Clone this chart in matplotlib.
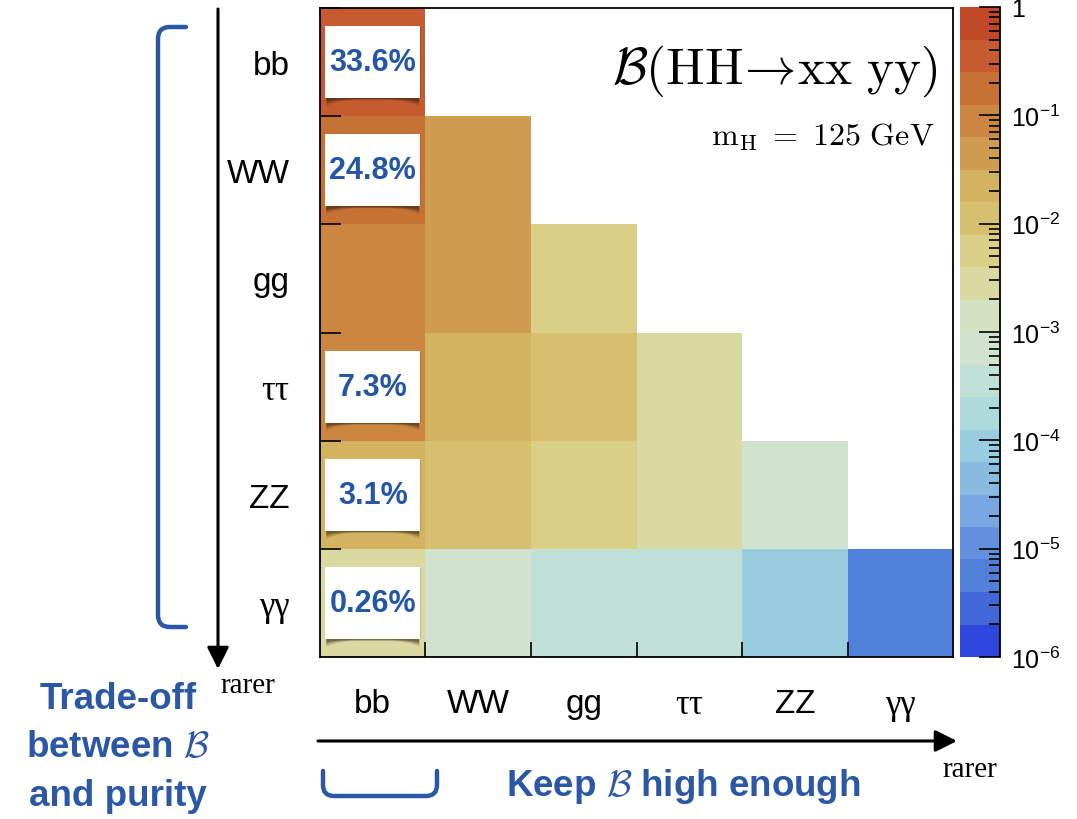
import numpy as np
import matplotlib
import matplotlib.pyplot as plt
from matplotlib.colors import ListedColormap, BoundaryNorm
from matplotlib.patches import Rectangle, Polygon, PathPatch
from matplotlib.path import Path
from matplotlib.ticker import LogLocator, NullFormatter, FixedLocator

plt.rcParams['font.family'] = ['Liberation Sans', 'DejaVu Sans']
plt.rcParams['mathtext.fontset'] = 'custom'
plt.rcParams['mathtext.rm'] = 'Liberation Sans'
plt.rcParams['mathtext.it'] = 'Liberation Sans:italic'
plt.rcParams['mathtext.bf'] = 'Liberation Sans:bold'

# decay channels (x: first pair, y: second pair)
channels = ['bb', 'WW', 'gg', r'ττ', 'ZZ', r'γγ']
greek = [r'ττ', r'γγ']

# B(HH -> xx yy), rows = y channel, columns = x channel (lower triangle)
nan = np.nan
br_bb = [0.336, nan, nan, nan, nan, nan]
br_WW = [0.248, 0.0463, nan, nan, nan, nan]
br_gg = [0.0950, 0.0352, 0.00669, nan, nan, nan]
br_tt = [0.0727, 0.0269, 0.0102, 0.00391, nan, nan]
br_ZZ = [0.0307, 0.0114, 0.00432, 0.00330, 0.000698, nan]
br_aa = [0.00264, 0.000977, 0.000372, 0.000284, 0.000120, 0.0000052]

# percentages shown in the bb column
pct_labels = ['33.6%', '24.8%', None, '7.3%', '3.1%', '0.26%']

# 20 contour colours from 1e-6 up to 1
band_colors = ['#2F46DD', '#4166D7', '#5080DA', '#6290DC', '#78A7E2',
               '#89BBE0', '#9ACCDF', '#ADDBDB', '#BFDFD7', '#D1E3CE',
               '#D5E1C3', '#DBD9A2', '#D9CF87', '#D6C070', '#D3B260',
               '#CF9C50', '#CB8742', '#C77235', '#C55B2F', '#BF4826']

W, H = 1077, 820
BLUE = '#2B57A5'


def fx(x):
    return x / W


def fy(y):
    return 1 - y / H


matrix = np.ma.masked_invalid(np.array([br_bb, br_WW, br_gg, br_tt, br_ZZ, br_aa]))
bounds = 10 ** np.linspace(-6, 0, 21)
cmap = ListedColormap(band_colors)
norm = BoundaryNorm(bounds, cmap.N)

fig = plt.figure(figsize=(W / 100, H / 100), dpi=100)
ax = fig.add_axes([fx(320), fy(658), fx(953) - fx(320), fy(9) - fy(658)])
cax = fig.add_axes([fx(960), fy(658), fx(1000) - fx(960), fy(8) - fy(658)])

n = len(channels)
ax.pcolormesh(np.arange(n + 1), np.arange(n + 1), matrix, cmap=cmap, norm=norm)
ax.set_xlim(0, n)
ax.set_ylim(n, 0)
for s in ax.spines.values():
    s.set_linewidth(1.3)
    s.set_zorder(5)

# ticks at cell boundaries, labels at cell centres
ax.xaxis.set_major_locator(FixedLocator(np.arange(1, n)))
ax.yaxis.set_major_locator(FixedLocator(np.arange(0, n)))
ax.tick_params(which='major', direction='in', width=1.2, labelbottom=False, labelleft=False)
ax.tick_params(axis='x', which='major', length=11)
ax.tick_params(axis='y', which='major', length=15)
ax.set_xticks(np.arange(n) + 0.5, channels, minor=True)
ax.set_yticks(np.arange(n) + 0.5, channels, minor=True)
ax.tick_params(which='minor', length=0, labelsize=24)
ax.tick_params(axis='x', which='minor', pad=22)
ax.tick_params(axis='y', which='minor', pad=22)
for lab in ax.get_xticklabels(minor=True) + ax.get_yticklabels(minor=True):
    if lab.get_text() in greek:
        lab.set_fontfamily('Liberation Serif')
        lab.set_fontsize(25)

# white boxes with percentages
bw, bh = 0.9, 0.665
for i, txt in enumerate(pct_labels):
    if txt is None:
        continue
    x0, yb = 0.5 - bw / 2, i + 0.5 + bh / 2
    xs = np.linspace(x0 + 0.01, x0 + bw - 0.01, 40)
    for k, a in zip([1.0, 0.7, 0.45], [0.15, 0.25, 0.35]):
        d = (0.02 + 0.06 * ((xs - 0.5) / (bw / 2)) ** 4) * k
        pts = np.vstack([np.column_stack([xs, yb + d]),
                         [[x0 + bw - 0.01, yb - 0.01], [x0 + 0.01, yb - 0.01]]])
        ax.add_patch(Polygon(pts, closed=True, facecolor='#2a1a08', alpha=a,
                             edgecolor='none', zorder=3))
    ax.add_patch(Rectangle((x0 + 0.012, i + 0.5 - bh / 2 + 0.01), bw, bh - 0.01,
                           facecolor='black', alpha=0.12, edgecolor='none', zorder=3))
    ax.add_patch(Rectangle((x0, i + 0.5 - bh / 2), bw, bh, facecolor='white',
                           edgecolor='none', zorder=4))
    ax.text(0.5, i + 0.5, txt, ha='center', va='center', color='#2456A5',
            fontsize=22, fontweight='bold', zorder=5)

# colour bar
mids = np.sqrt(bounds[:-1] * bounds[1:])
cax.pcolormesh([0, 1], bounds, mids.reshape(-1, 1), cmap=cmap, norm=norm)
cax.set_yscale('log')
cax.set_ylim(1e-6, 1)
cax.set_xlim(0, 1)
cax.set_xticks([])
cax.yaxis.tick_right()
cax.yaxis.set_major_locator(FixedLocator(10.0 ** np.arange(-6, 1)))
cax.set_yticklabels([r'$10^{-%d}$' % k for k in range(6, 0, -1)] + ['1'])
cax.yaxis.set_minor_locator(LogLocator(base=10, subs=np.arange(2, 10), numticks=20))
cax.yaxis.set_minor_formatter(NullFormatter())
cax.tick_params(which='major', direction='in', length=15, width=1.2, labelsize=18, pad=8)
cax.tick_params(which='minor', direction='in', length=8, width=1.2)
for side in ['left', 'top', 'bottom']:
    cax.spines[side].set_visible(False)
cax.spines['right'].set_linewidth(1.3)

# title inside the frame
fig.text(fx(937), fy(71), r'$\mathcal{B}(\mathrm{HH}\!\rightarrow\!\mathrm{xx\ yy})$',
         ha='right', va='center', fontsize=37, math_fontfamily='cm')
fig.text(fx(935), fy(137), r'$\mathrm{m_H\ =\ 125\ GeV}$',
         ha='right', va='center', fontsize=23, math_fontfamily='cm')

# arrows
arrow = dict(arrowstyle='-|>,head_length=0.6,head_width=0.3', mutation_scale=22,
             lw=2.2, color='black', shrinkA=0, shrinkB=0)
ax.annotate('', xy=(218, H - 670), xytext=(218, H - 10), xycoords='figure pixels',
            textcoords='figure pixels', arrowprops=arrow, annotation_clip=False)
ax.annotate('', xy=(957, H - 742), xytext=(318, H - 742), xycoords='figure pixels',
            textcoords='figure pixels', arrowprops=arrow, annotation_clip=False)
fig.text(fx(248), fy(686), 'rarer', ha='center', va='center', fontsize=21,
         family='Liberation Serif')
fig.text(fx(970), fy(770), 'rarer', ha='center', va='center', fontsize=21,
         family='Liberation Serif')

# blue brackets
def bracket(pts, codes):
    p = Path([(fx(x), fy(y)) for x, y in pts], codes)
    fig.add_artist(PathPatch(p, facecolor='none', edgecolor=BLUE, lw=3.2,
                             transform=fig.transFigure, capstyle='round'))


C3, L, M = Path.CURVE3, Path.LINETO, Path.MOVETO
bracket([(186, 28), (170, 28), (158, 28), (158, 40), (158, 616), (158, 628),
         (170, 628), (186, 628)], [M, L, C3, C3, L, C3, C3, L])
bracket([(323, 772), (323, 786), (323, 797), (334, 797), (426, 797), (437, 797),
         (437, 786), (437, 772)], [M, L, C3, C3, L, C3, C3, L])

# blue comments
fig.text(fx(118), fy(700), 'Trade-off', ha='center', va='center', fontsize=26.5,
         fontweight='bold', color=BLUE)
fig.text(fx(118), fy(748), r'between $\mathcal{B}$', ha='center', va='center',
         fontsize=26.5, fontweight='bold', color=BLUE, math_fontfamily='cm')
fig.text(fx(118), fy(797), 'and purity', ha='center', va='center', fontsize=26.5,
         fontweight='bold', color=BLUE)
fig.text(fx(683), fy(787), r'Keep $\mathcal{B}$ high enough', ha='center', va='center',
         fontsize=26.5, fontweight='bold', color=BLUE, math_fontfamily='cm')

fig.savefig('out.png', dpi=100)
